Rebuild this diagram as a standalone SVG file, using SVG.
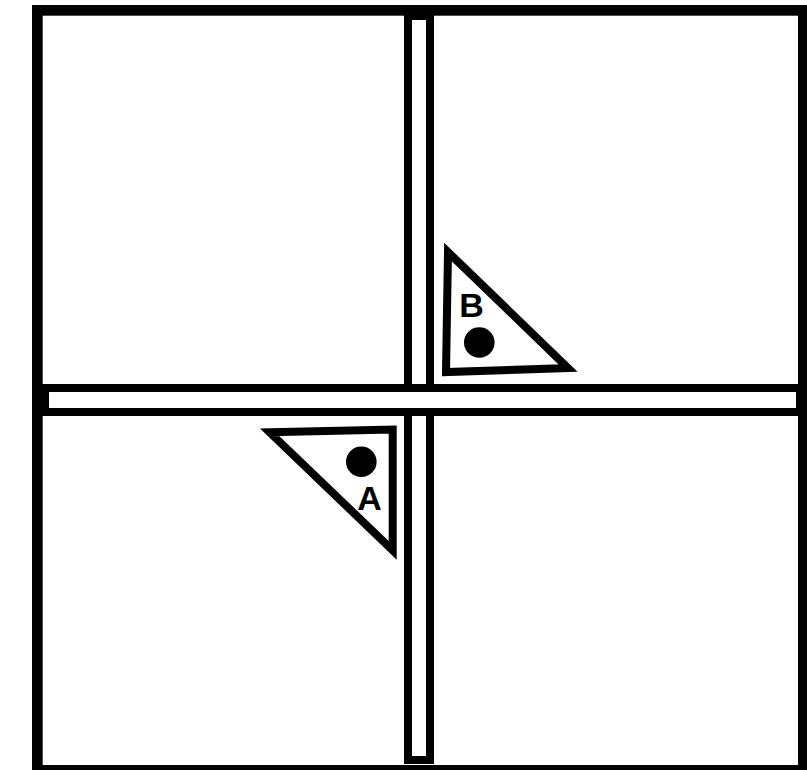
<svg xmlns="http://www.w3.org/2000/svg" width="807" height="770" viewBox="0 0 807 770">
<style>
.wall{fill:#fff;stroke:#000}
.tri{fill:#fff;stroke:#000;stroke-width:8;stroke-linejoin:miter;stroke-miterlimit:10}
.lbl{font-family:"Liberation Sans",Arial,sans-serif;font-weight:bold;font-size:34px;fill:#000;text-anchor:middle}
</style>
<rect width="807" height="770" fill="#fff"/>
<g id="frame">
<rect class="wall" x="37.35" y="10.35" width="766" height="760" stroke-width="10.7"/>
</g>
<g id="vertical-channel">
<rect class="wall" x="408" y="16" width="22" height="744" stroke-width="8"/>
</g>
<g id="horizontal-channel">
<rect class="wall" x="45" y="388" width="755" height="24" stroke-width="8"/>
</g>
<g id="node-B">
<polygon class="tri" points="448,252 446,372 568,368"/>
<circle cx="479.3" cy="342.5" r="15.3" fill="#000"/>
<text class="lbl" x="471.5" y="316.5">B</text>
</g>
<g id="node-A">
<polygon class="tri" points="269.7,432.3 392.7,429.5 392.7,550.4"/>
<circle cx="361.3" cy="461.7" r="15.3" fill="#000"/>
<text class="lbl" x="369.5" y="510">A</text>
</g>
<g id="connectors"></g>
</svg>
